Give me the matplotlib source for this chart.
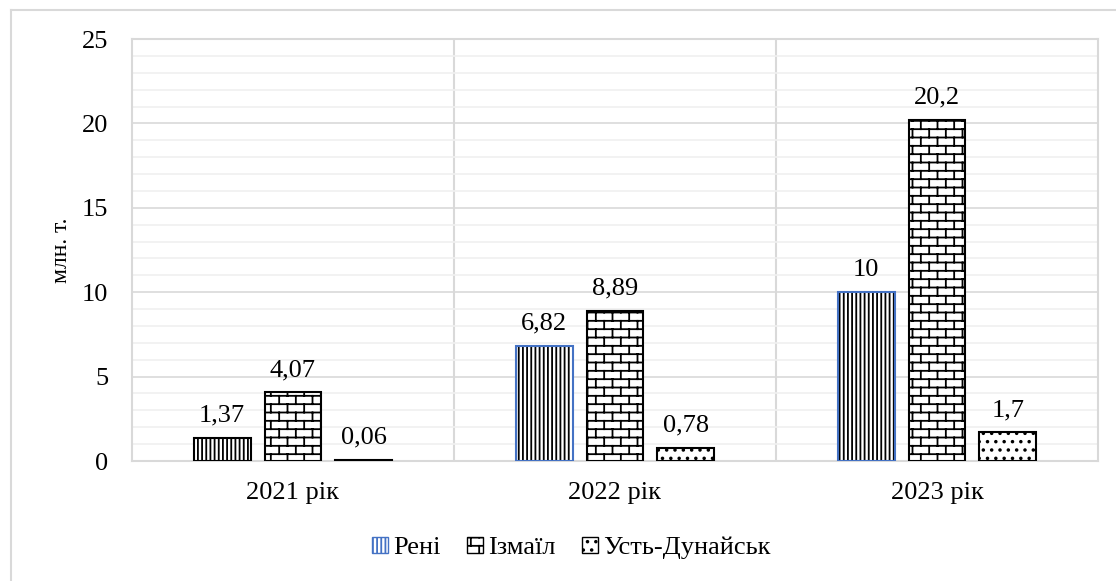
import warnings
import numpy as np
import matplotlib
matplotlib.use('Agg')
import matplotlib.pyplot as plt
from matplotlib import hatch as mhatch
from matplotlib.path import Path
from matplotlib.patches import Patch
from matplotlib.lines import Line2D

warnings.filterwarnings('ignore')

years = ['2021 рік', '2022 рік', '2023 рік']
reni = [1.37, 6.82, 10]
izmail = [4.07, 8.89, 20.2]
ust = [0.06, 0.78, 1.7]
series_names = ['Рені', 'Ізмаїл', 'Усть-Дунайськ']


# brick hatch, matplotlib has none of its own
class BrickHatch(mhatch.HatchPatternBase):
    def __init__(self, hatch, density):
        n = hatch.count('b')
        self.rows = 2 * density * n
        self.cols = density * n
        self.num_vertices = 2 * (self.rows + (self.rows + 1) * self.cols) if n else 0

    def set_vertices_and_codes(self, vertices, codes):
        segs = []
        for r in range(self.rows):
            y = (r + 0.5) / self.rows
            segs.append(((0.0, y), (1.0, y)))
        for r in range(-1, self.rows):
            y0 = (r + 0.5) / self.rows
            y1 = (r + 1.5) / self.rows
            off = 0.5 if r % 2 else 0.0
            for c in range(self.cols):
                x = (c + off + 0.25) / self.cols
                segs.append(((x, y0), (x, y1)))
        segs = np.array(segs)
        vertices[0::2] = segs[:, 0]
        vertices[1::2] = segs[:, 1]
        codes[0::2] = Path.MOVETO
        codes[1::2] = Path.LINETO


mhatch._hatch_types.append(BrickHatch)

plt.rcParams['font.family'] = ['Liberation Serif', 'DejaVu Serif']
plt.rcParams['hatch.linewidth'] = 1.3
plt.rcParams['hatch.color'] = 'black'

fig = plt.figure(figsize=(11.16, 5.81), dpi=100)
ax = fig.add_axes([132 / 1116, 120 / 581, 966 / 1116, 422 / 581])

# outer chart frame (left and top edges visible)
fig.add_artist(Line2D([11 / 1116, 11 / 1116], [0, 1 - 10 / 581], transform=fig.transFigure, color='#D9D9D9', lw=1.5))
fig.add_artist(Line2D([11 / 1116, 1], [1 - 10 / 581, 1 - 10 / 581], transform=fig.transFigure, color='#D9D9D9', lw=1.5))

x = np.arange(len(years))
w = 0.177
step = 0.22

b1 = ax.bar(x - step, reni, w, color='white', edgecolor='black', linewidth=0, hatch='||||', zorder=3)
ax.bar(x - step, reni, w, fill=False, edgecolor=['black', '#4472C4', '#4472C4'], linewidth=1.5, zorder=4)
b2 = ax.bar(x, izmail, w, color='white', edgecolor='black', linewidth=1.5, hatch='b', zorder=3)
b3 = ax.bar(x + step, ust, w, color='white', edgecolor='black', linewidth=1.5, hatch='..', zorder=3)

for bars, vals in [(b1, reni), (b2, izmail), (b3, ust)]:
    ax.bar_label(bars, labels=[('%g' % v).replace('.', ',') for v in vals], padding=8, fontsize=19)

ax.set_xlim(-0.5, 2.5)
ax.set_ylim(0, 25)
ax.set_yticks(np.arange(0, 26, 5))
ax.set_yticks(np.arange(0, 26, 1), minor=True)
ax.set_xticks(x)
ax.set_xticklabels(years)
ax.tick_params(axis='both', which='both', length=0, labelsize=19)
ax.tick_params(axis='x', pad=15)
ax.tick_params(axis='y', pad=17)
ax.grid(axis='y', which='minor', color='#F0F0F0', lw=1.2, zorder=0)
ax.grid(axis='y', which='major', color='#D9D9D9', lw=1.2, zorder=1)
for xv in [0.5, 1.5]:
    ax.axvline(xv, color='#D9D9D9', lw=1.5, zorder=1)
for s in ax.spines.values():
    s.set_color('#D9D9D9')
    s.set_linewidth(1.5)
ax.set_ylabel('млн. т.', fontsize=17, labelpad=7)

handles = [Patch(facecolor='white', edgecolor='#4472C4', hatch='||||'),
           Patch(facecolor='white', edgecolor='black', hatch='b'),
           Patch(facecolor='white', edgecolor='black', hatch='..')]
fig.legend(handles, series_names, loc='center', bbox_to_anchor=(571 / 1116, 1 - 548 / 581),
           ncol=3, frameon=False, fontsize=19, handlelength=0.6, handleheight=0.6,
           handletextpad=0.2, columnspacing=1.0)

fig.savefig('out.png', dpi=100)
